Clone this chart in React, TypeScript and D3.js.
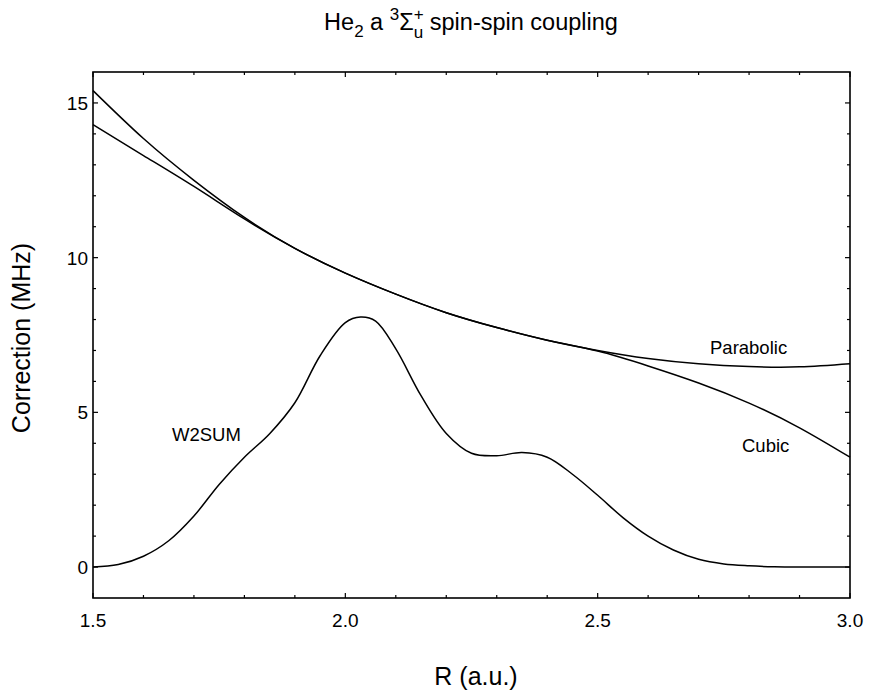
import React from "react";
import * as d3 from "d3";

const R_FIT = [1.5, 1.6, 1.7, 1.8, 1.9, 2.0, 2.1, 2.2, 2.3, 2.4, 2.5, 2.6, 2.7, 2.8, 2.9, 3.0];
const CUBIC = [15.4, 13.85, 12.5, 11.3, 10.3, 9.5, 8.82, 8.22, 7.74, 7.33, 6.98, 6.5, 5.95, 5.3, 4.5, 3.55];
const PARABOLIC = [14.3, 13.3, 12.3, 11.25, 10.3, 9.5, 8.82, 8.22, 7.74, 7.33, 7.0, 6.74, 6.57, 6.48, 6.47, 6.57];

const R_W2 = [1.5, 1.55, 1.6, 1.65, 1.7, 1.75, 1.8, 1.85, 1.9, 1.95, 2.0, 2.03, 2.06, 2.1, 2.15, 2.2, 2.25, 2.3, 2.35, 2.4, 2.45, 2.5, 2.55, 2.6, 2.65, 2.7, 2.75, 2.8, 2.85, 2.9, 3.0];
const W2SUM = [0.0, 0.08, 0.35, 0.85, 1.65, 2.67, 3.55, 4.31, 5.31, 6.83, 7.9, 8.08, 7.95, 7.05, 5.54, 4.32, 3.68, 3.6, 3.7, 3.55, 3.0, 2.32, 1.6, 1.0, 0.55, 0.25, 0.1, 0.04, 0.01, 0.0, 0.0];

const X_MAJOR = [1.5, 2.0, 2.5, 3.0];
const X_LABELS = ["1.5", "2.0", "2.5", "3.0"];
const Y_MAJOR = [0, 5, 10, 15];
const Y_LABELS = ["0", "5", "10", "15"];

const FONT = "'Liberation Sans', Arial, Helvetica, sans-serif";

export default function App() {
  const W = 888, H = 692;
  const left = 93, right = 850, top = 72, bottom = 598;
  const x = d3.scaleLinear().domain([1.5, 3.0]).range([left, right]);
  const y = d3.scaleLinear().domain([-1, 16]).range([bottom, top]);

  const fitLine = d3.line<[number, number]>()
    .x(d => x(d[0]))
    .y(d => y(d[1]))
    .curve(d3.curveNatural);
  const w2Line = d3.line<[number, number]>()
    .x(d => x(d[0]))
    .y(d => y(d[1]))
    .curve(d3.curveCatmullRom.alpha(0.5));

  const cubicPath = fitLine(R_FIT.map((r, i) => [r, CUBIC[i]]));
  const parPath = fitLine(R_FIT.map((r, i) => [r, PARABOLIC[i]]));
  const w2Path = w2Line(R_W2.map((r, i) => [r, W2SUM[i]]));

  const xMinor = d3.range(16).map(i => 1.5 + i * 0.1).filter(v => !X_MAJOR.some(m => Math.abs(m - v) < 1e-6));
  const yMinor = d3.range(-1, 17).filter(v => !Y_MAJOR.includes(v) && v > -1 && v < 16);

  const maj = 5, min = 3;

  return (
    <div style={{ position: "fixed", left: 0, top: 0, width: W, height: H, background: "#fff" }}>
      <svg width={W} height={H} style={{ display: "block" }} fontFamily={FONT}>
        <rect x={0} y={0} width={W} height={H} fill="#fff" />
        {/* title */}
        <text x={471} y={30} fontSize={23.5} textAnchor="middle" fill="#000">
          He<tspan fontSize={17} dy={7}>2</tspan>
          <tspan dy={-7}> a </tspan>
          <tspan fontSize={17} dy={-10}>3</tspan>
          <tspan dy={10}>Σ</tspan>
          <tspan fontSize={17} dy={-10}>+</tspan>
          <tspan fontSize={17} dx={-9.9} dy={18}>u</tspan>
          <tspan dy={-8}> spin-spin coupling</tspan>
        </text>

        {/* curves */}
        <g fill="none" stroke="#000" strokeWidth={1.5}>
          <path d={cubicPath || ""} />
          <path d={parPath || ""} />
          <path d={w2Path || ""} />
        </g>

        {/* frame */}
        <rect x={left} y={top} width={right - left} height={bottom - top} fill="none" stroke="#000" strokeWidth={1.6} />

        {/* ticks */}
        <g stroke="#000" strokeWidth={1.2}>
          {X_MAJOR.map(v => (
            <g key={"xM" + v}>
              <line x1={x(v)} x2={x(v)} y1={bottom} y2={bottom - maj} />
              <line x1={x(v)} x2={x(v)} y1={top} y2={top + maj} />
            </g>
          ))}
          {xMinor.map(v => (
            <g key={"xm" + v}>
              <line x1={x(v)} x2={x(v)} y1={bottom} y2={bottom - min} />
              <line x1={x(v)} x2={x(v)} y1={top} y2={top + min} />
            </g>
          ))}
          {Y_MAJOR.map(v => (
            <g key={"yM" + v}>
              <line x1={left} x2={left + maj} y1={y(v)} y2={y(v)} />
              <line x1={right} x2={right - maj} y1={y(v)} y2={y(v)} />
            </g>
          ))}
          {yMinor.map(v => (
            <g key={"ym" + v}>
              <line x1={left} x2={left + min} y1={y(v)} y2={y(v)} />
              <line x1={right} x2={right - min} y1={y(v)} y2={y(v)} />
            </g>
          ))}
        </g>

        {/* tick labels */}
        <g fontSize={19} fill="#000">
          {X_MAJOR.map((v, i) => (
            <text key={"xl" + v} x={x(v)} y={627} textAnchor="middle">{X_LABELS[i]}</text>
          ))}
          {Y_MAJOR.map((v, i) => (
            <text key={"yl" + v} x={88} y={y(v) + 7} textAnchor="end">{Y_LABELS[i]}</text>
          ))}
        </g>

        {/* curve labels */}
        <g fontSize={18.5} fill="#000">
          <text x={710} y={354}>Parabolic</text>
          <text x={742} y={452}>Cubic</text>
          <text x={172} y={441}>W2SUM</text>
        </g>

        {/* axis titles */}
        <text x={476} y={685} fontSize={25} textAnchor="middle" fill="#000">R (a.u.)</text>
        <text transform="translate(30,338) rotate(-90)" fontSize={25} textAnchor="middle" fill="#000">Correction (MHz)</text>
      </svg>
    </div>
  );
}
